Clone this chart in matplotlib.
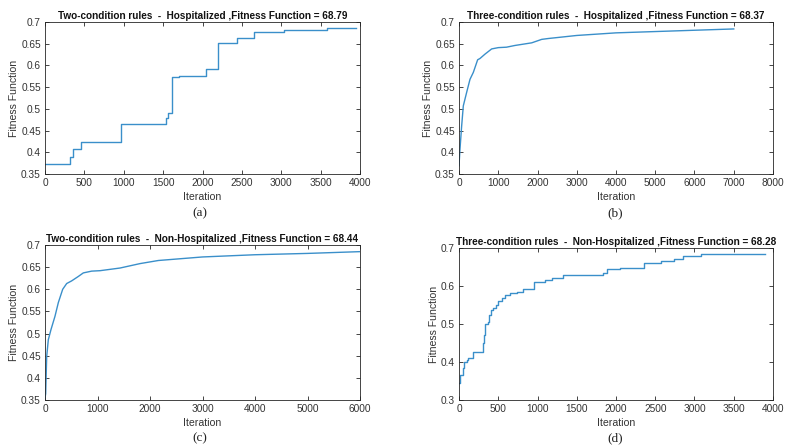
import numpy as np
import matplotlib.pyplot as plt
from matplotlib.ticker import FuncFormatter

# (a) Two-condition rules - Hospitalized (step curve)
a_iter = [0, 318, 360, 453, 962, 1538, 1568, 1614, 1700, 2050, 2200, 2440, 2660, 3040, 3580, 3950]
a_fit = [0.372, 0.388, 0.407, 0.424, 0.466, 0.480, 0.491, 0.574, 0.576, 0.592, 0.651, 0.664, 0.676, 0.682, 0.686, 0.687]

# (b) Three-condition rules - Hospitalized
b_iter = [0, 25, 68, 110, 195, 280, 365, 475, 535, 662, 832, 1002, 1210, 1427, 1852, 2107, 2277,
          3000, 4000, 5000, 6000, 7000]
b_fit = [0.369, 0.407, 0.461, 0.507, 0.538, 0.568, 0.584, 0.613, 0.616, 0.626, 0.638, 0.641, 0.642,
         0.646, 0.652, 0.660, 0.662, 0.669, 0.675, 0.678, 0.681, 0.684]

# (c) Two-condition rules - Non-Hospitalized
c_iter = [0, 13, 32, 63, 114, 190, 254, 337, 413, 508, 635, 730, 889, 1048, 1429, 1810, 2159,
          3000, 4000, 5000, 6000]
c_fit = [0.355, 0.364, 0.448, 0.486, 0.509, 0.539, 0.570, 0.600, 0.613, 0.619, 0.629, 0.637, 0.641,
         0.642, 0.648, 0.658, 0.665, 0.673, 0.678, 0.681, 0.685]

# (d) Three-condition rules - Non-Hospitalized (step curve)
d_iter = [0, 10, 55, 68, 98, 119, 183, 310, 323, 331, 365, 382, 408, 437, 467, 501, 544, 586, 650,
          735, 820, 960, 1096, 1180, 1325, 1830, 1890, 2050, 2360, 2570, 2740, 2850, 3080, 3900]
d_fit = [0.346, 0.365, 0.385, 0.400, 0.406, 0.410, 0.426, 0.451, 0.470, 0.499, 0.505, 0.525, 0.536,
         0.542, 0.551, 0.560, 0.569, 0.576, 0.581, 0.584, 0.593, 0.611, 0.616, 0.622, 0.628, 0.635,
         0.644, 0.648, 0.661, 0.666, 0.670, 0.680, 0.683, 0.683]

titles = [
    "Two-condition rules  -  Hospitalized ,Fitness Function = 68.79",
    "Three-condition rules  -  Hospitalized ,Fitness Function = 68.37",
    "Two-condition rules  -  Non-Hospitalized ,Fitness Function = 68.44",
    "Three-condition rules  -  Non-Hospitalized ,Fitness Function = 68.28",
]
captions = ["(a)", "(b)", "(c)", "(d)"]

plt.rcParams['font.family'] = ['Liberation Sans', 'DejaVu Sans']

LINE = '#3a8fca'
TXT = '#333333'

fig = plt.figure(figsize=(7.87, 4.46), dpi=100)

W, H = 787, 446
def box(l, t, r, b):
    return [l / W, 1 - b / H, (r - l) / W, (b - t) / H]

specs = [
    (box(45, 22, 360, 174), a_iter, a_fit, True, (0, 4000, 500), (0.35, 0.7, 0.05)),
    (box(459, 22, 773, 174), b_iter, b_fit, False, (0, 8000, 1000), (0.35, 0.7, 0.05)),
    (box(45, 245, 360, 400), c_iter, c_fit, False, (0, 6000, 1000), (0.35, 0.7, 0.05)),
    (box(459, 248, 773, 400), d_iter, d_fit, True, (0, 4000, 500), (0.3, 0.7, 0.1)),
]
cap_pos = [(200, 213), (615, 213), (200, 438), (615, 438)]

fmt = FuncFormatter(lambda v, p: f"{v:g}")

for i, (rect, x, y, step, xt, yt) in enumerate(specs):
    ax = fig.add_axes(rect)
    ax.plot(x, y, color=LINE, linewidth=1.0,
            drawstyle='steps-post' if step else 'default')
    ax.set_xlim(xt[0], xt[1])
    ax.set_ylim(yt[0], yt[1])
    ax.set_xticks(np.arange(xt[0], xt[1] + 1, xt[2]))
    ax.set_yticks(np.round(np.arange(yt[0], yt[1] + 1e-9, yt[2]), 2))
    ax.xaxis.set_major_formatter(fmt)
    ax.yaxis.set_major_formatter(fmt)
    ax.tick_params(direction='in', length=3, width=0.6, top=True, right=True,
                   labelsize=7.3, colors='#262626', labelcolor=TXT, pad=3)
    for s in ax.spines.values():
        s.set_linewidth(0.6)
        s.set_color('#262626')
    ax.set_xlabel("Iteration", fontsize=7.6, color=TXT, labelpad=2.5)
    ax.set_ylabel("Fitness Function", fontsize=7.6, color=TXT, labelpad=1.5)
    ax.set_title(titles[i], fontsize=7.2, fontweight='bold', color='#111111', pad=2)
    cx, cy = cap_pos[i]
    fig.text(cx / W, 1 - cy / H, captions[i], ha='center', va='center',
             fontsize=9.5, family='Liberation Serif', color='#222222')

fig.savefig("out.png", dpi=100, facecolor='white')
